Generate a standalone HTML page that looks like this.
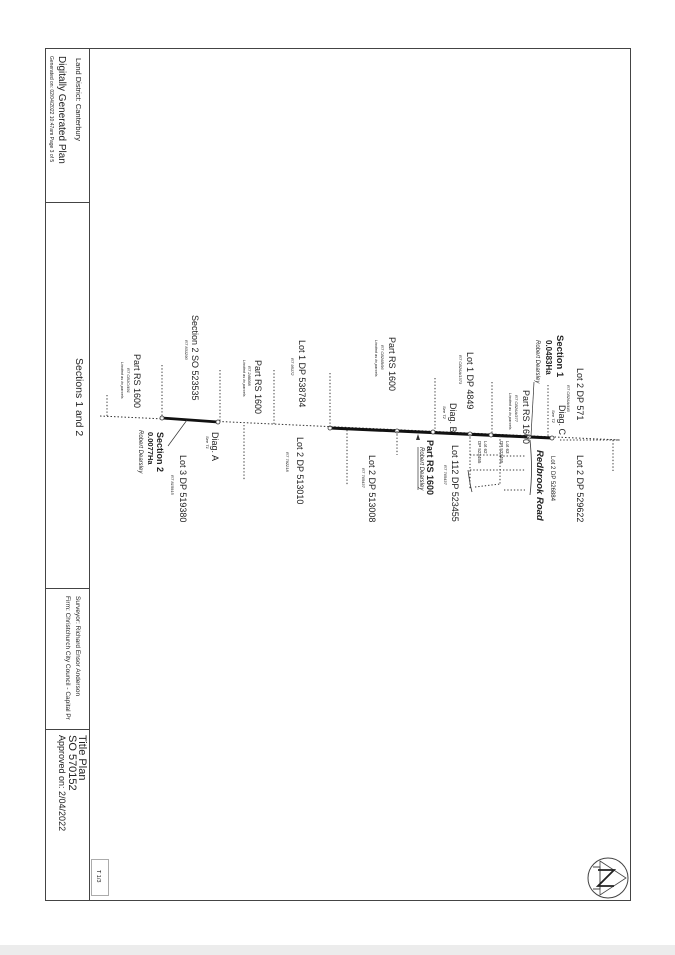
<!DOCTYPE html>
<html><head><meta charset="utf-8"><style>
html,body{margin:0;padding:0;background:#fff;}
svg{display:block;}
text{font-family:"Liberation Sans",sans-serif;fill:#222;}
.m{font-size:9px;}
.s{font-size:4px;font-style:italic;}
.b{font-weight:bold;}
.i{font-style:italic;}
</style></head><body>
<svg width="675" height="955" viewBox="0 0 675 955" xmlns="http://www.w3.org/2000/svg">
<rect x="0" y="945" width="675" height="10" fill="#ececec"/>
<!-- border -->
<rect x="45.5" y="48.5" width="585" height="852" fill="none" stroke="#444" stroke-width="1"/>
<line x1="89.5" y1="48" x2="89.5" y2="900" stroke="#444"/>
<line x1="45" y1="202.5" x2="89" y2="202.5" stroke="#444"/>
<line x1="45" y1="588.5" x2="89" y2="588.5" stroke="#444"/>
<line x1="45" y1="729.5" x2="89" y2="729.5" stroke="#444"/>
<rect x="91.5" y="859.5" width="17" height="36" fill="none" stroke="#888" stroke-width="0.7"/>
<!-- compass -->
<circle cx="608" cy="878" r="20" fill="none" stroke="#444" stroke-width="1"/>
<polygon points="600,861 626,878 600,895" fill="none" stroke="#444" stroke-width="0.8"/>
<polyline points="593,867 600,867 600,889 593,889" fill="none" stroke="#444" stroke-width="1"/>
<polyline points="598,870 614,870 598,886 614,886" fill="none" stroke="#222" stroke-width="1.8"/>

<!-- title block text -->
<text transform="translate(76,58) rotate(90)" style="font-size:7.5px">Land District: Canterbury</text>
<text transform="translate(59,56) rotate(90)" style="font-size:10px">Digitally Generated Plan</text>
<text transform="translate(50,56) rotate(90)" style="font-size:5px">Generated on: 02/04/2022 10:47am Page 3 of 5</text>
<text transform="translate(76,358) rotate(90)" style="font-size:10.5px">Sections 1 and 2</text>
<text transform="translate(76,596) rotate(90)" style="font-size:6.5px">Surveyor: Richard Ensor Anderson</text>
<text transform="translate(66,596) rotate(90)" style="font-size:6.5px">Firm: Christchurch City Council - Capital Pr</text>
<text transform="translate(79,735) rotate(90)" style="font-size:11px">Title Plan</text>
<text transform="translate(69,735) rotate(90)" style="font-size:11px">SO 570152</text>
<text transform="translate(59,735) rotate(90)" style="font-size:9px">Approved on: 2/04/2022</text>
<text transform="translate(97,870) rotate(90)" style="font-size:5.5px">T 1/3</text>

<!-- main boundary -->
<line x1="100" y1="416" x2="620" y2="440" stroke="#333" stroke-width="1" stroke-dasharray="1.5,2"/>
<line x1="162" y1="418" x2="218" y2="422" stroke="#111" stroke-width="2.8"/>
<line x1="330" y1="428" x2="552" y2="438" stroke="#111" stroke-width="3"/>
<g fill="#fff" stroke="#333" stroke-width="0.8">
<circle cx="162" cy="418" r="2"/><circle cx="218" cy="422" r="2"/><circle cx="330" cy="428" r="2"/>
<circle cx="433" cy="432" r="2"/><circle cx="470" cy="434" r="2"/><circle cx="491" cy="435" r="2"/>
<circle cx="529" cy="437" r="2"/><circle cx="552" cy="438" r="2"/><circle cx="397" cy="431" r="2"/>
</g>
<g stroke="#333" stroke-width="1" stroke-dasharray="1.3,2" fill="none">
<line x1="107" y1="395" x2="107" y2="416"/>
<line x1="162" y1="365" x2="162" y2="418"/>
<line x1="220" y1="370" x2="220" y2="422"/>
<line x1="244" y1="425" x2="244" y2="480"/>
<line x1="274" y1="370" x2="274" y2="424"/>
<line x1="330" y1="373" x2="330" y2="428"/>
<line x1="347" y1="430" x2="347" y2="485"/>
<line x1="397" y1="431" x2="397" y2="455"/>
<line x1="435" y1="378" x2="435" y2="432"/>
<line x1="492" y1="382" x2="492" y2="435"/>
<line x1="548" y1="385" x2="548" y2="436"/>
<line x1="560" y1="440" x2="620" y2="440"/>
<line x1="613" y1="440" x2="613" y2="472"/>
<line x1="470" y1="434" x2="470" y2="490"/>
<line x1="500" y1="436" x2="500" y2="485"/>
<line x1="470" y1="455" x2="500" y2="455"/>
<line x1="500" y1="456" x2="525" y2="456"/>
<line x1="470" y1="470" x2="525" y2="470"/>
<line x1="475" y1="487" x2="500" y2="484"/>
<line x1="504" y1="490" x2="525" y2="490"/>
</g>
<path d="M468,470 Q470,485 472,492" fill="none" stroke="#333" stroke-width="0.8"/>
<path d="M530,440 Q533,470 530,495" fill="none" stroke="#333" stroke-width="0.8"/>
<line x1="187" y1="420" x2="168" y2="446" stroke="#333" stroke-width="0.7"/>
<line x1="534" y1="382" x2="531" y2="436" stroke="#333" stroke-width="0.7"/>
<line x1="418" y1="447" x2="418" y2="490" stroke="#333" stroke-width="0.7"/>
<polygon points="416,440 420,440 418,434" fill="#333"/>

<g class="m">
<text transform="translate(577,368) rotate(90)">Lot 2 DP 571</text>
<text class="s" transform="translate(567,385) rotate(90)">RT CB26A/440</text>
<text class="b" transform="translate(557,335) rotate(90)" style="font-size:9.5px">Section 1</text>
<text class="b" transform="translate(546,340) rotate(90)" style="font-size:8px">0.0483Ha</text>
<text class="i" transform="translate(536,340) rotate(90)" style="font-size:6px">Robert Dearsley</text>
<text transform="translate(523,390) rotate(90)">Part RS 1600</text>
<text class="s" transform="translate(515,395) rotate(90)">RT CB26A/377</text>
<text class="s" transform="translate(509,393) rotate(90)">Limited as to parcels</text>
<text transform="translate(559,405) rotate(90)">Diag. C</text>
<text class="s" transform="translate(552,410) rotate(90)">See T2</text>
<text transform="translate(467,352) rotate(90)">Lot 1 DP 4849</text>
<text class="s" transform="translate(459,355) rotate(90)">RT CB26A/1373</text>
<text transform="translate(450,403) rotate(90)">Diag. B</text>
<text class="s" transform="translate(443,406) rotate(90)">See T2</text>
<text transform="translate(389,337) rotate(90)">Part RS 1600</text>
<text class="s" transform="translate(381,345) rotate(90)">RT CB26B/96</text>
<text class="s" transform="translate(375,340) rotate(90)">Limited as to parcels</text>
<text transform="translate(577,455) rotate(90)">Lot 2 DP 529622</text>
<text class="b i" transform="translate(537,450) rotate(90)" style="font-size:9.5px">Redbrook Road</text>
<text transform="translate(551,456) rotate(90)" style="font-size:6px">Lot 2 DP 526884</text>
<text transform="translate(506,441) rotate(90)" style="font-size:4.5px">Lot 63</text>
<text transform="translate(500,441) rotate(90)" style="font-size:4.5px">DP 523455</text>
<text transform="translate(484,441) rotate(90)" style="font-size:4.5px">Lot 62</text>
<text transform="translate(478,441) rotate(90)" style="font-size:4.5px">DP 523455</text>
<text transform="translate(452,445) rotate(90)">Lot 112 DP 523455</text>
<text class="s" transform="translate(444,465) rotate(90)">RT 765437</text>
<text class="b" transform="translate(427,440) rotate(90)">Part RS 1600</text>
<text class="i" transform="translate(420,447) rotate(90)" style="font-size:6px">Robert Dearsley</text>
<text transform="translate(369,455) rotate(90)">Lot 2 DP 513008</text>
<text class="s" transform="translate(362,468) rotate(90)">RT 765437</text>
<text transform="translate(299,340) rotate(90)">Lot 1 DP 538784</text>
<text class="s" transform="translate(291,358) rotate(90)">RT 95172</text>
<text transform="translate(297,437) rotate(90)">Lot 2 DP 513010</text>
<text class="s" transform="translate(286,452) rotate(90)">RT 792218</text>
<text transform="translate(255,360) rotate(90)">Part RS 1600</text>
<text class="s" transform="translate(248,366) rotate(90)">RT 248088</text>
<text class="s" transform="translate(243,360) rotate(90)">Limited as to parcels</text>
<text transform="translate(192,315) rotate(90)">Section 2 SO 523535</text>
<text class="s" transform="translate(185,340) rotate(90)">RT 831290</text>
<text transform="translate(212,432) rotate(90)">Diag. A</text>
<text class="s" transform="translate(206,436) rotate(90)">See T1</text>
<text class="b" transform="translate(157,432) rotate(90)" style="font-size:9px">Section 2</text>
<text class="b" transform="translate(148,432) rotate(90)" style="font-size:7.5px">0.0077Ha</text>
<text class="i" transform="translate(139,430) rotate(90)" style="font-size:6px">Robert Dearsley</text>
<text transform="translate(180,455) rotate(90)">Lot 3 DP 519380</text>
<text class="s" transform="translate(171,475) rotate(90)">RT 815915</text>
<text transform="translate(134,354) rotate(90)">Part RS 1600</text>
<text class="s" transform="translate(127,368) rotate(90)">RT CB1C/491</text>
<text class="s" transform="translate(121,362) rotate(90)">Limited as to parcels</text>
</g>
</svg>
</body></html>
